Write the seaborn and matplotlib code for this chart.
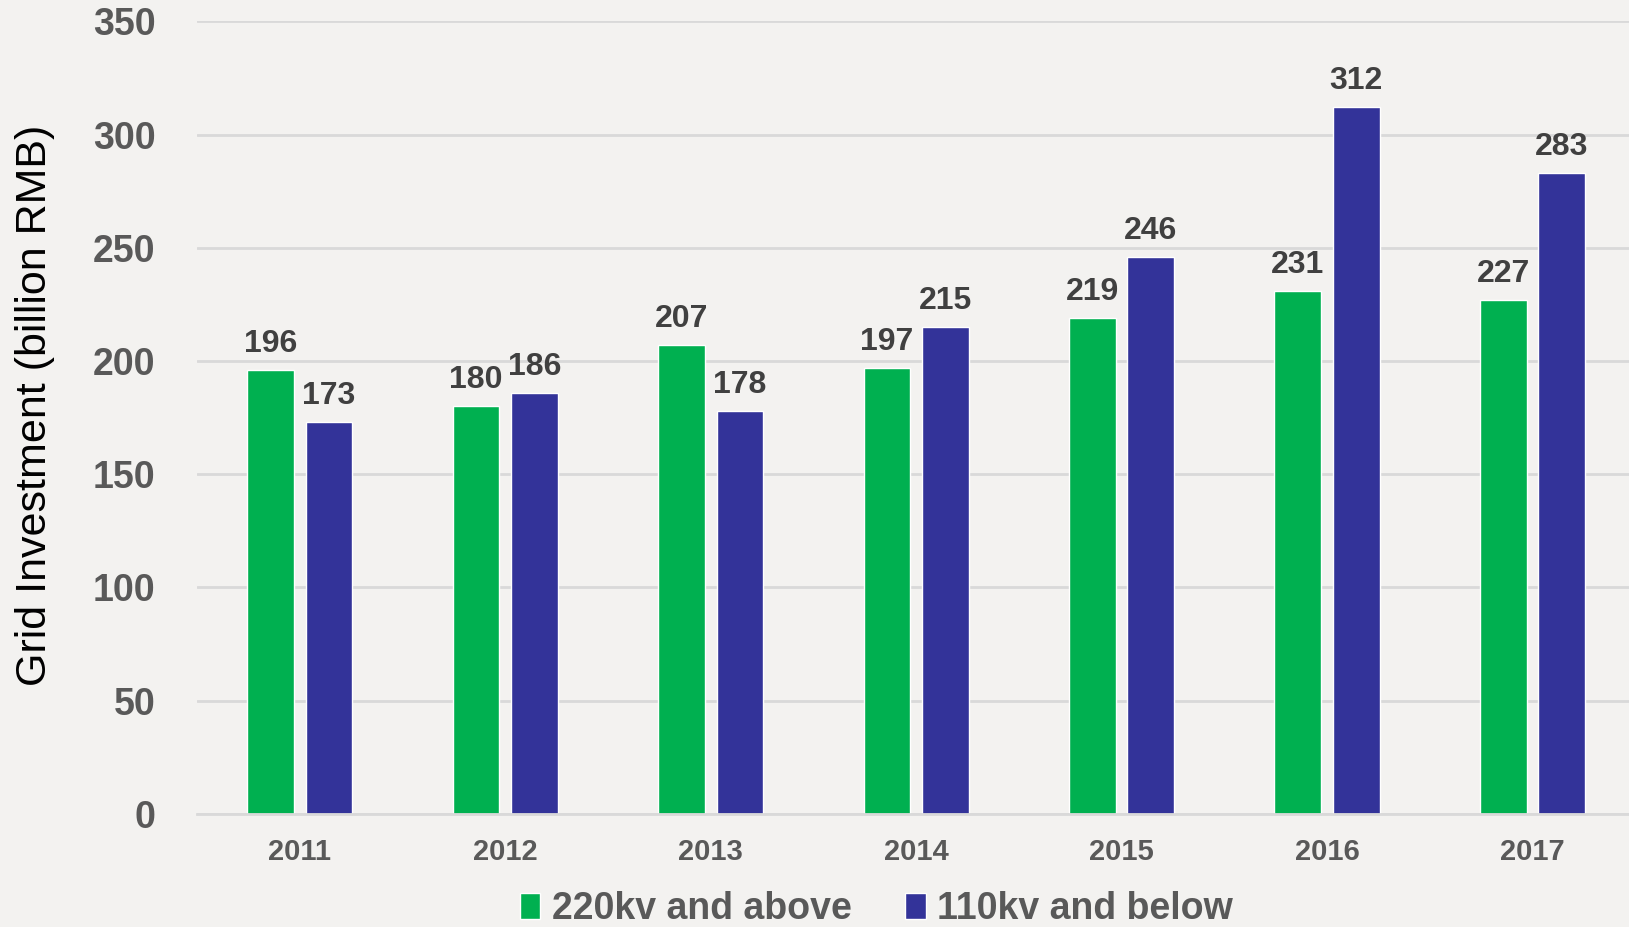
import matplotlib
matplotlib.use("Agg")
import matplotlib.pyplot as plt
import seaborn as sns
import pandas as pd

years = ["2011", "2012", "2013", "2014", "2015", "2016", "2017"]
series_names = ["220kv and above", "110kv and below"]
high_voltage = [196, 180, 207, 197, 219, 231, 227]
low_voltage = [173, 186, 178, 215, 246, 312, 283]
y_ticks = [0, 50, 100, 150, 200, 250, 300, 350]
y_label = "Grid Investment (billion RMB)"

colors = ["#00B050", "#333399"]
bg = "#F3F2F0"

df = pd.DataFrame({
    "year": years * 2,
    "series": [series_names[0]] * len(years) + [series_names[1]] * len(years),
    "value": high_voltage + low_voltage,
})

sns.set_theme(style="white")
plt.rcParams["font.family"] = ["Liberation Sans", "DejaVu Sans"]

fig = plt.figure(figsize=(16.29, 9.27), dpi=100, facecolor=bg)
ax = fig.add_axes([0.121, 0.122, 0.879, 0.855])
ax.set_facecolor(bg)

sns.barplot(data=df, x="year", y="value", hue="series", order=years,
            hue_order=series_names, palette=colors, width=0.568, gap=0.2,
            saturation=1, ax=ax, legend=True)

for cont in ax.containers:
    ax.bar_label(cont, labels=[f"{v:.0f}" for v in cont.datavalues], padding=8,
                 fontsize=23, fontweight="bold", color="#404040")

ax.set_xlim(-0.5, 6.47)
ax.set_ylim(0, 350)
ax.set_yticks(y_ticks)
ax.yaxis.grid(True, color="#D9D9D9", linewidth=2)
ax.set_axisbelow(True)
for s in ["top", "right", "left"]:
    ax.spines[s].set_visible(False)
ax.spines["bottom"].set_color("#D9D9D9")
ax.spines["bottom"].set_linewidth(2)
ax.tick_params(axis="y", length=0, pad=30, labelsize=27, labelcolor="#595959")
ax.tick_params(axis="x", length=0, pad=17, labelsize=21, labelcolor="#595959")
for lbl in ax.get_yticklabels() + ax.get_xticklabels():
    lbl.set_fontweight("bold")
ax.set_xlabel("")
ax.set_ylabel(y_label, fontsize=31, color="black")
ax.yaxis.set_label_coords(-0.099, 0.516)

handles, labels = ax.get_legend_handles_labels()
ax.legend(handles, labels, loc="center", bbox_to_anchor=(0.538, 0.019),
          bbox_transform=fig.transFigure, ncol=2, frameon=False,
          handlelength=0.55, handleheight=0.7, handletextpad=0.3,
          columnspacing=1.44, labelcolor="#595959",
          prop={"weight": "bold", "size": 27})

fig.savefig("out.png", dpi=100, facecolor=bg)
